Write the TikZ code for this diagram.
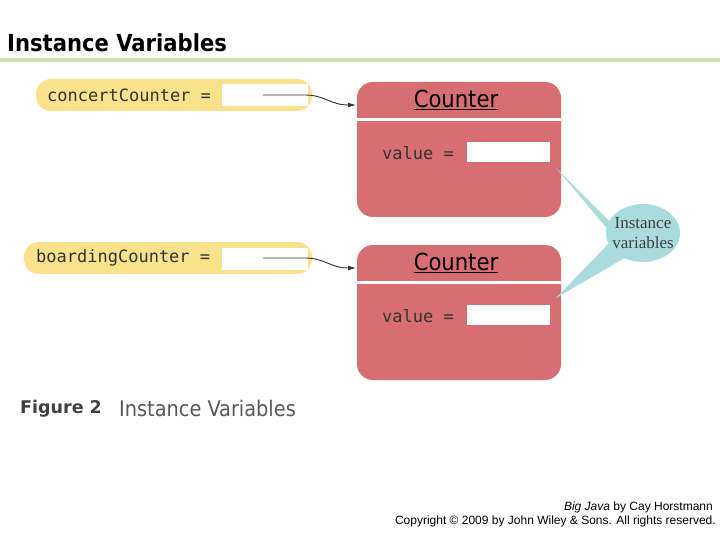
\documentclass[tikz,border=0pt]{standalone}
\usepackage{fontspec}
\setmainfont{Liberation Sans}
\setsansfont{DejaVu Sans}
\setmonofont{DejaVu Sans Mono}
\newfontfamily\serifcall{Liberation Serif}
\newfontfamily\condsans{DejaVu Sans Condensed}
\usetikzlibrary{arrows.meta}
\definecolor{pill}{RGB}{250,226,140}
\definecolor{objred}{RGB}{214,110,116}
\definecolor{callout}{RGB}{170,220,221}
\definecolor{gline}{RGB}{200,226,180}
\tikzset{
  pillbox/.style={fill=pill,rounded corners=15pt,draw=none},
  code/.style={font=\ttfamily\fontsize{17}{17}\selectfont,text=black!80,anchor=west,inner sep=0pt},
  ref/.style={-{Latex[length=8pt,width=5pt]},draw=black!80,line width=0.9pt},
}
\begin{document}
\begin{tikzpicture}[x=1pt,y=-1pt]
\useasboundingbox (0,0) rectangle (720,540);
\node[anchor=west,inner sep=0pt,font=\condsans\bfseries\fontsize{23.5}{23.5}\selectfont] (title) at (7,43) {Instance Variables};
\fill[gline] (0,58.5) rectangle (720,62);
% pills
\fill[pillbox] (36,79) rectangle (312,111);
\fill[pillbox] (24,242) rectangle (312,274);
\node[code] (cc) at (47,95) {concertCounter =};
\node[code] (bc) at (36,258) {boardingCounter =};
\fill[white] (222,84) rectangle (308,106);
\fill[white] (222,248) rectangle (308,270);
\coordinate (r1) at (263,95);
\coordinate (r2) at (263,258);
% objects
\foreach \y/\n in {82/a,245/b}{
  \fill[objred,rounded corners=16pt] (357,\y) rectangle (561,\y+135);
  \fill[white] (357,\y+36) rectangle (561,\y+39);
  \node[font=\condsans\fontsize{23.5}{23.5}\selectfont,inner sep=1pt] (t\n) at (456,\y+18) {\underline{Counter}};
  \node[code] (v\n) at (382,\y+71) {value =};
  \fill[white] (467,\y+60) rectangle (550,\y+80);
  \coordinate (o\n) at (356,\y+23);
}
\draw[ref] (r1) -- (305,95) .. controls (325,95) and (330,105) .. (oa);
\draw[ref] (r2) -- (305,258) .. controls (325,258) and (330,268) .. (ob);
% callout
\fill[callout] (556,168) -- (610,222) -- (622,246) -- cycle;
\fill[callout] (556,298) -- (612,240) -- (628,256) -- cycle;
\fill[callout] (643,233) ellipse (37 and 29);
\node[font=\serifcall\fontsize{17}{20}\selectfont,align=center,text=black!75] (cl) at (643,233) {Instance\\variables};
% caption
\node[anchor=west,inner sep=0pt,font=\sffamily\bfseries\fontsize{17.5}{17.5}\selectfont,text=black!75] (fig) at (20,409) {Figure 2};
\node[anchor=west,inner sep=0pt,font=\condsans\fontsize{21.5}{21.5}\selectfont,text=black!65] (cap) at (119,408) {Instance Variables};
\node[anchor=east,inner sep=0pt,font=\fontsize{12}{12}\selectfont] (c1) at (713,507) {\textit{Big Java} by Cay Horstmann};
\node[anchor=east,inner sep=0pt,font=\fontsize{12}{12}\selectfont] (c2) at (716,521) {Copyright © 2009 by John Wiley \& Sons.  All rights reserved.};
\end{tikzpicture}
\end{document}
